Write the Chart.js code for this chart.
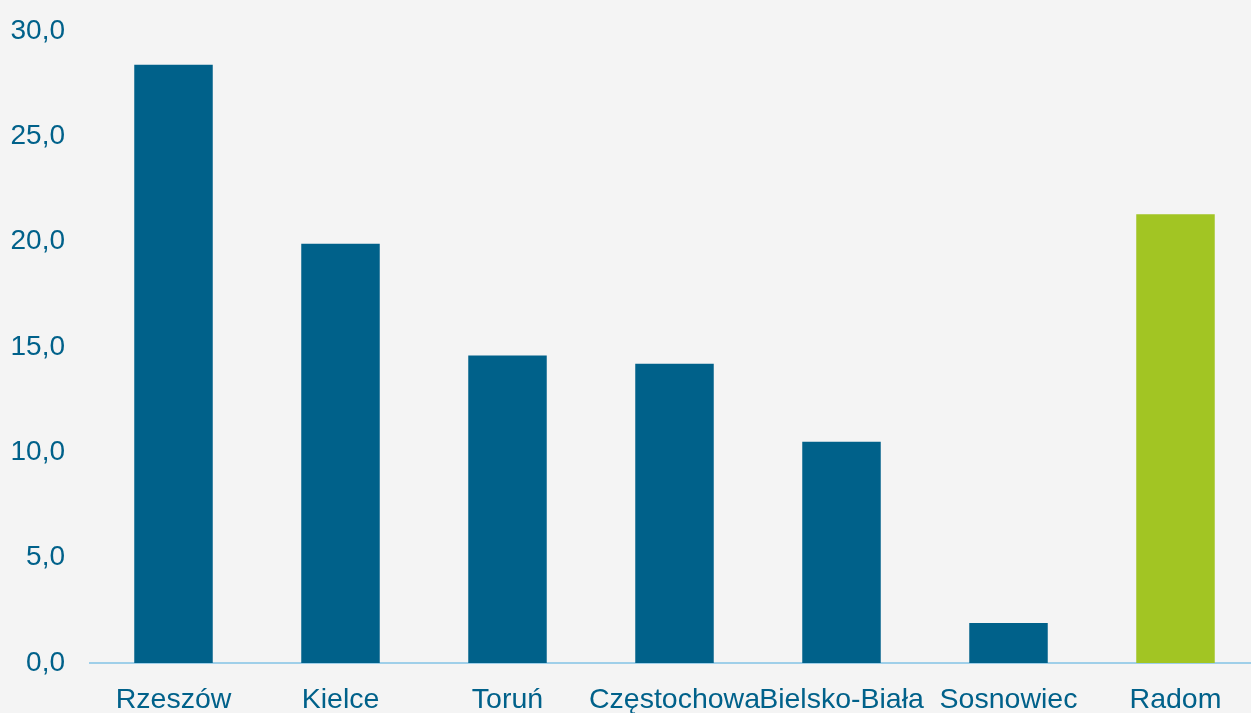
<!DOCTYPE html>
<html>
<head>
<meta charset="utf-8">
<script src="https://cdn.jsdelivr.net/npm/chart.js@4"></script>
<style>
  html, body { margin: 0; padding: 0; background: #f4f4f4; overflow: hidden; }
  #wrap { width: 1259px; height: 713px; }
</style>
</head>
<body>
<div id="wrap"><canvas id="chart" width="1259" height="713"></canvas></div>
<script>
// cities and values
var cities = ['Rzeszów', 'Kielce', 'Toruń', 'Częstochowa', 'Bielsko-Biała', 'Sosnowiec', 'Radom'];
var values = [28.4, 19.9, 14.6, 14.2, 10.5, 1.9, 21.3];
var barColors = ['#00618a', '#00618a', '#00618a', '#00618a', '#00618a', '#00618a', '#a2c523'];

var ctx = document.getElementById('chart').getContext('2d');

var chart = new Chart(ctx, {
    type: 'bar',
    data: {
        labels: cities,
        datasets: [{
            data: values,
            backgroundColor: barColors,
            barPercentage: 0.94,
            categoryPercentage: 0.5
        }]
    },
    options: {
        responsive: false,
        animation: false,
        layout: { padding: { top: 31, right: 0, left: 0, bottom: 0 } },
        plugins: {
            legend: { display: false },
            tooltip: { enabled: false }
        },
        scales: {
            x: {
                afterFit: function(scale) { scale.height = 50; },
                grid: { display: false, drawTicks: false },
                border: { display: true, color: '#9fcfe9', width: 2 },
                ticks: {
                    color: '#00618a',
                    padding: 20,
                    maxRotation: 0,
                    autoSkip: false,
                    font: { family: 'Liberation Sans', size: 28.5 }
                }
            },
            y: {
                min: 0,
                max: 30,
                afterFit: function(scale) {
                    scale.width = 90;
                    scale.paddingTop = 0;
                    scale.paddingBottom = 0;
                },
                grid: { display: false, drawTicks: false },
                border: { display: false },
                ticks: {
                    stepSize: 5,
                    color: '#00618a',
                    padding: 25,
                    font: { family: 'Liberation Sans', size: 28 },
                    callback: function(v) { return v.toFixed(1).replace('.', ','); }
                }
            }
        }
    }
});
</script>
</body>
</html>
